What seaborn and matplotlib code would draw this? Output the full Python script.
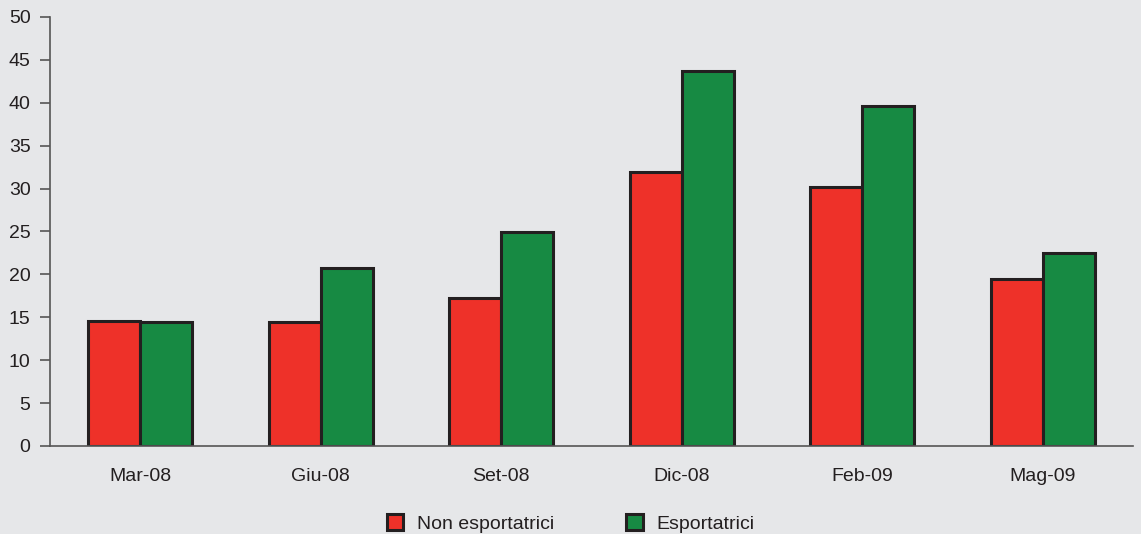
import pandas as pd
import seaborn as sns
import matplotlib.pyplot as plt
from matplotlib.patches import Patch

categories = ["Mar-08", "Giu-08", "Set-08", "Dic-08", "Feb-09", "Mag-09"]
non_esport = [14.6, 14.5, 17.2, 31.9, 30.2, 19.5]
esport = [14.5, 20.7, 24.9, 43.7, 39.6, 22.5]
series_names = ["Non esportatrici", "Esportatrici"]
colors = ["#ee3129", "#178a43"]

df = pd.DataFrame({
    "periodo": categories * 2,
    "valore": non_esport + esport,
    "serie": [series_names[0]] * len(categories) + [series_names[1]] * len(categories),
})

bg = "#e6e7e9"
dark = "#231f20"
sns.set_theme(style="white")
plt.rcParams["font.family"] = ["Liberation Sans", "DejaVu Sans"]

fig = plt.figure(figsize=(11.41, 5.34), dpi=100, facecolor=bg)
ax = fig.add_axes([0.0438, 0.1648, 0.9492, 0.8034])
ax.set_facecolor(bg)

sns.barplot(data=df, x="periodo", y="valore", hue="serie", palette=colors,
            width=0.576, gap=0, edgecolor=dark, linewidth=2.2, ax=ax,
            legend=False, saturation=1)

ax.set_xlim(-0.5, len(categories) - 0.5)
ax.set_ylim(0, 50)
ax.set_yticks(range(0, 51, 5))
ax.set_xlabel("")
ax.set_ylabel("")

for s in ["top", "right"]:
    ax.spines[s].set_visible(False)
for s in ["left", "bottom"]:
    ax.spines[s].set_color("#555555")
    ax.spines[s].set_linewidth(1.2)

ax.set_xticks([i - 0.5 for i in range(len(categories) + 1)], minor=True)
ax.tick_params(axis="x", which="major", length=0, pad=16, labelsize=14, labelcolor=dark)
ax.tick_params(axis="x", which="minor", length=8, width=1.2, color="#555555", direction="out")
ax.tick_params(axis="y", length=7, width=1.2, color="#555555", direction="out",
               labelsize=14, labelcolor=dark, pad=7, left=True)

handles = [Patch(facecolor=c, edgecolor=dark, linewidth=2.2, label=n)
           for c, n in zip(colors, series_names)]
fig.legend(handles=handles, loc="lower center", bbox_to_anchor=(0.5, -0.03), ncol=2,
           frameon=False, fontsize=14, handlelength=0.85, handleheight=0.85,
           handletextpad=0.7, columnspacing=3.7, labelcolor=dark)

fig.savefig("out.png", dpi=100, facecolor=bg)
